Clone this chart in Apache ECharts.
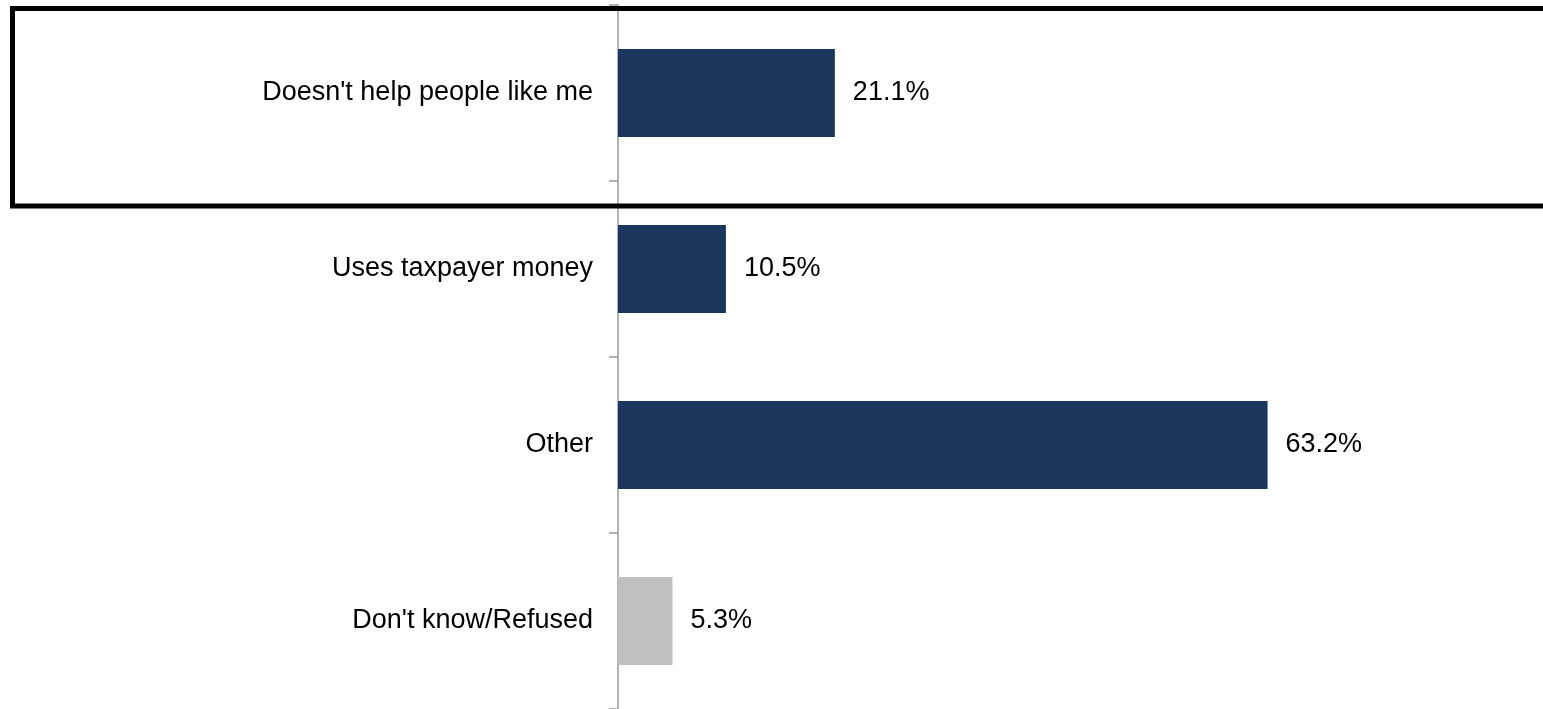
<!DOCTYPE html>
<html>
<head>
<meta charset="utf-8">
<style>
  html, body { margin: 0; padding: 0; background: #ffffff; }
  #chart { width: 1543px; height: 709px; }
</style>
<script src="https://cdn.jsdelivr.net/npm/echarts@6/dist/echarts.min.js"></script>
</head>
<body>
<div id="chart"></div>
<script>
// Reasons given (percent of respondents)
const categories = ["Doesn't help people like me", "Uses taxpayer money", "Other", "Don't know/Refused"];
const values = [21.1, 10.5, 63.2, 5.3];
const barColors = ['#1b365d', '#1b365d', '#1b365d', '#bfbfbf'];

const FONT = '"Liberation Sans", Arial, Helvetica, sans-serif';

const chart = echarts.init(document.getElementById('chart'), null, { renderer: 'canvas' });

chart.setOption({
  animation: false,
  backgroundColor: '#ffffff',
  grid: { left: 618, right: 0, top: 5, bottom: -2, containLabel: false },
  xAxis: {
    type: 'value',
    min: 0,
    max: 90,
    show: false
  },
  yAxis: {
    type: 'category',
    inverse: true,
    data: categories,
    axisLine: { show: true, lineStyle: { color: '#9b9b9b', width: 1.5 } },
    axisTick: { show: true, length: 9, lineStyle: { color: '#9b9b9b', width: 1.5 } },
    axisLabel: { margin: 25, color: '#000000', fontSize: 27, fontFamily: FONT, padding: [2, 0, 0, 0] },
    splitLine: { show: false }
  },
  series: [{
    type: 'bar',
    data: values.map((v, i) => ({ value: v, itemStyle: { color: barColors[i] } })),
    barCategoryGap: '50%',
    label: {
      show: true,
      position: 'right',
      distance: 18,
      color: '#000000',
      fontSize: 27,
      fontFamily: FONT,
      padding: [2, 0, 0, 0],
      formatter: p => p.value.toFixed(1) + '%'
    }
  }],
  graphic: [{
    type: 'rect',
    shape: { x: 12.5, y: 8.5, width: 1545, height: 197.5 },
    style: { fill: 'none', stroke: '#000000', lineWidth: 5 },
    z: 100
  }]
});
</script>
</body>
</html>
